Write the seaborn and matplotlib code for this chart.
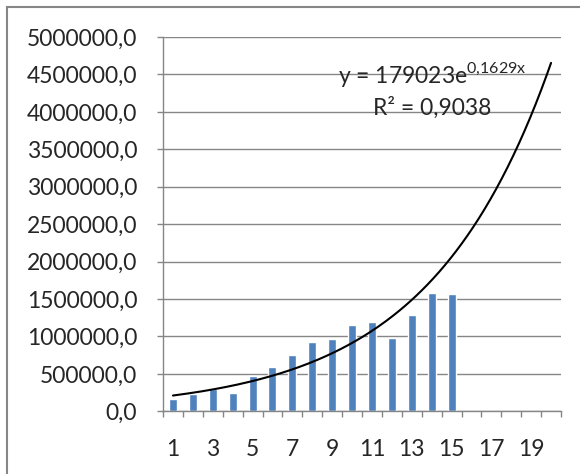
import numpy as np
import pandas as pd
import seaborn as sns
import matplotlib
matplotlib.use("Agg")
import matplotlib.pyplot as plt
from matplotlib.patches import Rectangle
from matplotlib.ticker import FixedLocator

# data
periods = list(range(1, 21))
values = [158000, 229000, 292000, 243000, 472000, 597000, 747000, 923000,
          963000, 1154000, 1198000, 981000, 1286000, 1582000, 1573000]
y_ticks = list(range(0, 5000001, 500000))
x_labels = [str(p) if p % 2 == 1 else "" for p in periods]

# trendline shown on the chart: y = 179023 e^(0,1629x), R² = 0,9038
trend_a = 179023
trend_b = 0.1629
trend_r2 = 0.9038

sns.set_style("white")
plt.rcParams["font.family"] = ["Lato", "DejaVu Sans"]
plt.rcParams["mathtext.fontset"] = "custom"
plt.rcParams["mathtext.rm"] = "Lato"

df = pd.DataFrame({"period": periods[:len(values)], "value": values})

fig = plt.figure(figsize=(5.8, 4.74), dpi=100)
ax = fig.add_axes([163 / 580, 1 - 411.3 / 474, 398 / 580, 374.3 / 474])

sns.barplot(data=df, x="period", y="value", order=periods, color="#4F81BD",
            width=0.4, saturation=1, ax=ax)

# exponential trendline over all 20 categories (category i sits at i-1)
xs = np.linspace(1, 20, 200)
sns.lineplot(x=xs - 1, y=trend_a * np.exp(trend_b * xs), color="black",
             linewidth=1.5, ax=ax)

ax.set_xlim(-0.5, 19.5)
ax.set_ylim(0, 5000000)
ax.set_yticks(y_ticks)
ax.set_yticklabels([f"{v:.1f}".replace(".", ",") for v in y_ticks])
ax.set_xticks(range(20))
ax.set_xticklabels(x_labels)
ax.xaxis.set_minor_locator(FixedLocator(np.arange(-0.5, 20, 1)))
ax.set_xlabel("")
ax.set_ylabel("")

grid_c = "#868686"
ax.yaxis.grid(True, color=grid_c, linewidth=1)
ax.set_axisbelow(True)
for s in ["top", "right"]:
    ax.spines[s].set_visible(False)
for s in ["left", "bottom"]:
    ax.spines[s].set_color(grid_c)
    ax.spines[s].set_linewidth(1)

ax.tick_params(axis="y", which="major", length=4.5, width=1, color=grid_c,
               direction="out", pad=14, labelsize=16.5, left=True)
ax.tick_params(axis="x", which="major", length=0, pad=20, labelsize=16.5)
ax.tick_params(axis="x", which="minor", length=4.5, width=1, color=grid_c,
               direction="out", bottom=True)

fig.text(432 / 580, 1 - 83 / 474,
         r"y = 179023e$^{\mathrm{0{,}1629x}}$".replace("179023", str(trend_a)),
         fontsize=16.5, ha="center", va="baseline")
fig.text(432 / 580, 1 - 115 / 474, f"R² = {trend_r2:.4f}".replace(".", ","),
         fontsize=16.5, ha="center", va="baseline")

# outer chart frame (cut off at right and bottom)
fig.patches.append(Rectangle((7 / 580, -0.2), 2, 1.2 - 7 / 474, fill=False,
                             edgecolor=grid_c, linewidth=1.5,
                             transform=fig.transFigure, figure=fig))

fig.savefig("out.png", dpi=100)
